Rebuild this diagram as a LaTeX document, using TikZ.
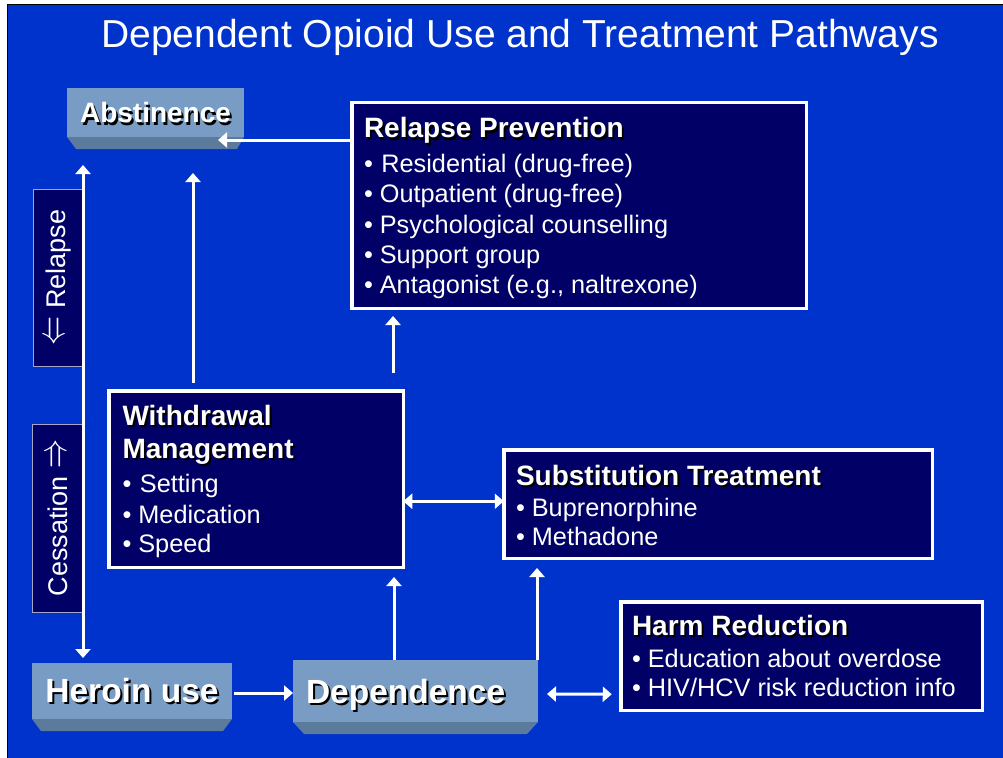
\documentclass[tikz,border=0pt]{standalone}
\usepackage{fontspec}
\usepackage{graphicx}
\setmainfont{Liberation Sans}
\usetikzlibrary{arrows.meta,calc}

\definecolor{slideblue}{HTML}{0033CC}
\definecolor{navy}{HTML}{000066}
\definecolor{facec}{HTML}{789CC4}
\definecolor{bevelc}{HTML}{5C7A9B}

% white text with a black drop shadow
\newcommand\shtext[1]{\leavevmode\rlap{\kern2pt\raisebox{-2pt}{\color{black}#1}}#1}
\newcommand\fs[2]{\fontsize{#1}{#2}\selectfont}
% wide double arrows for the side labels
\newcommand\larr{\raisebox{1.5pt}{\resizebox{29pt}{15pt}{$\Leftarrow$}}}
\newcommand\rarr{\raisebox{1.5pt}{\resizebox{29pt}{15pt}{$\Rightarrow$}}}

\begin{document}
\begin{tikzpicture}[x=1pt,y=-1pt,
  panel/.style={draw=white, line width=3.5pt, fill=navy, outer sep=0pt,
    inner ysep=0pt, anchor=north west, text=white},
  face/.style={fill=facec, inner ysep=0pt, outer sep=0pt, anchor=north west,
    text=white, font=\fs{33.5}{40}\bfseries},
  sidebox/.style={draw=white!65!navy, line width=1pt, fill=navy, text=white,
    inner sep=0pt, outer sep=0pt, font=\fs{27}{32}},
  tip/.tip={Triangle[length=9pt,width=15pt]},
  arr/.style={white, line width=3pt, -tip},
  dbl/.style={white, line width=3pt, tip-tip}]

\useasboundingbox (0,0) rectangle (1003,757);
\clip (0,0) rectangle (1003,757);
\fill[white] (0,0) rectangle (1003,757);
\filldraw[fill=slideblue, draw=black, line width=1pt] (7.5,4.5) rectangle (1010,765);

% title
\node[text=white, font=\fs{39}{45}, anchor=base] (title) at (520,48)
  {Dependent Opioid Use and Treatment Pathways};

% bevelled state boxes
\node[face, minimum width=177pt, text height=35pt, text depth=14pt,
  font=\fs{28}{32}\bfseries] (abst) at (67,88) {\shtext{Abstinence}};
\node[face, minimum width=200pt, text height=39pt, text depth=17pt]
  (heroin) at (32,663) {\shtext{Heroin use}};
\node[face, inner xsep=13pt, text height=43pt, text depth=19pt]
  (dep) at (293,660) {\makebox[219pt][l]{\shtext{Dependence}}};
\foreach \n/\l/\r in {abst/9/7, heroin/9/9, dep/11/11}
  \fill[bevelc] (\n.south west) -- (\n.south east) -- ++(-\r,12)
    -- ($(\n.south west)+(\l,12)$) -- cycle;

% treatment panels
\node[panel, inner xsep=12.25pt, text height=35.25pt, text depth=170.25pt]
  (rp) at (351.75,102.75) {\parbox[t]{430pt}{\fs{25.3}{30}\raggedright
    {\fs{28}{30}\bfseries\shtext{Relapse Prevention}}\\[4pt]
    • \hspace{1.5pt}Residential (drug-free)\\[1pt]
    • Outpatient (drug-free)\\
    • Psychological counselling\\
    • Support group\\
    • Antagonist (e.g., naltrexone)}};

\node[panel, inner xsep=13.75pt, text height=34.25pt, text depth=142.25pt]
  (wm) at (108.75,390.75) {\parbox[t]{267pt}{\fs{25.3}{30}\raggedright
    {\fs{28}{30}\bfseries\shtext{Withdrawal}}\\[3pt]
    {\fs{28}{30}\bfseries\shtext{Management}}\\[4pt]
    • \hspace{1.5pt}Setting\\[1pt]
    • Medication\\[-1pt]
    • Speed}};

\node[panel, inner xsep=12.25pt, text height=35.25pt, text depth=73.25pt]
  (st) at (503.75,449.75) {\parbox[t]{404pt}{\fs{25.3}{30}\raggedright
    {\fs{28}{30}\bfseries\shtext{Substitution Treatment}}\\[1pt]
    • Buprenorphine\\[-1pt]
    • Methadone}};

\node[panel, inner xsep=11.25pt, text height=33.25pt, text depth=75.25pt]
  (hr) at (620.75,601.75) {\parbox[t]{339pt}{\fs{25.3}{30}\raggedright
    {\fs{28}{30}\bfseries\shtext{Harm Reduction}}\\[2pt]
    • Education about overdose\\[-1pt]
    • HIV/HCV risk reduction info}};

% side labels
\node[sidebox, rotate=90, minimum width=177pt, minimum height=51pt]
  (rel) at (58.5,277.5) {\larr{} Relapse};
\node[sidebox, rotate=90, minimum width=188pt, minimum height=51pt]
  (ces) at (57.5,518) {Cessation \rarr};

% connectors
\draw[arr] ($(rp.north west)+(0,37.25)$) -- ($(abst.south east)+(-26,3)$);
\draw[dbl] ($(abst.south west)+(16,28)$) -- ($(heroin.north west)+(51,-5)$);
\draw[arr] ($(wm.north west)+(84.25,-8)$) -- ($(abst.south west)+(126,36)$);
\draw[arr] ($(wm.north east)+(-10.25,-17.75)$) -- ($(rp.south west)+(41.25,7.75)$);
\draw[dbl] ($(wm.south east)+(0,-66)$) -- ($(st.south west)+(0,-57)$);
\draw[arr] ($(dep.north west)+(101,0)$) -- ($(wm.south west)+(285.25,9.75)$);
\draw[arr] ($(dep.north east)+(-1,0)$) -- ($(st.south west)+(33.25,9.75)$);
\draw[arr] ($(heroin.east)+(2,2)$) -- ($(dep.west)+(0,2)$);
\draw[dbl] ($(dep.east)+(9,3)$) -- ($(hr.south west)+(-9,-16)$);
\end{tikzpicture}
\end{document}
